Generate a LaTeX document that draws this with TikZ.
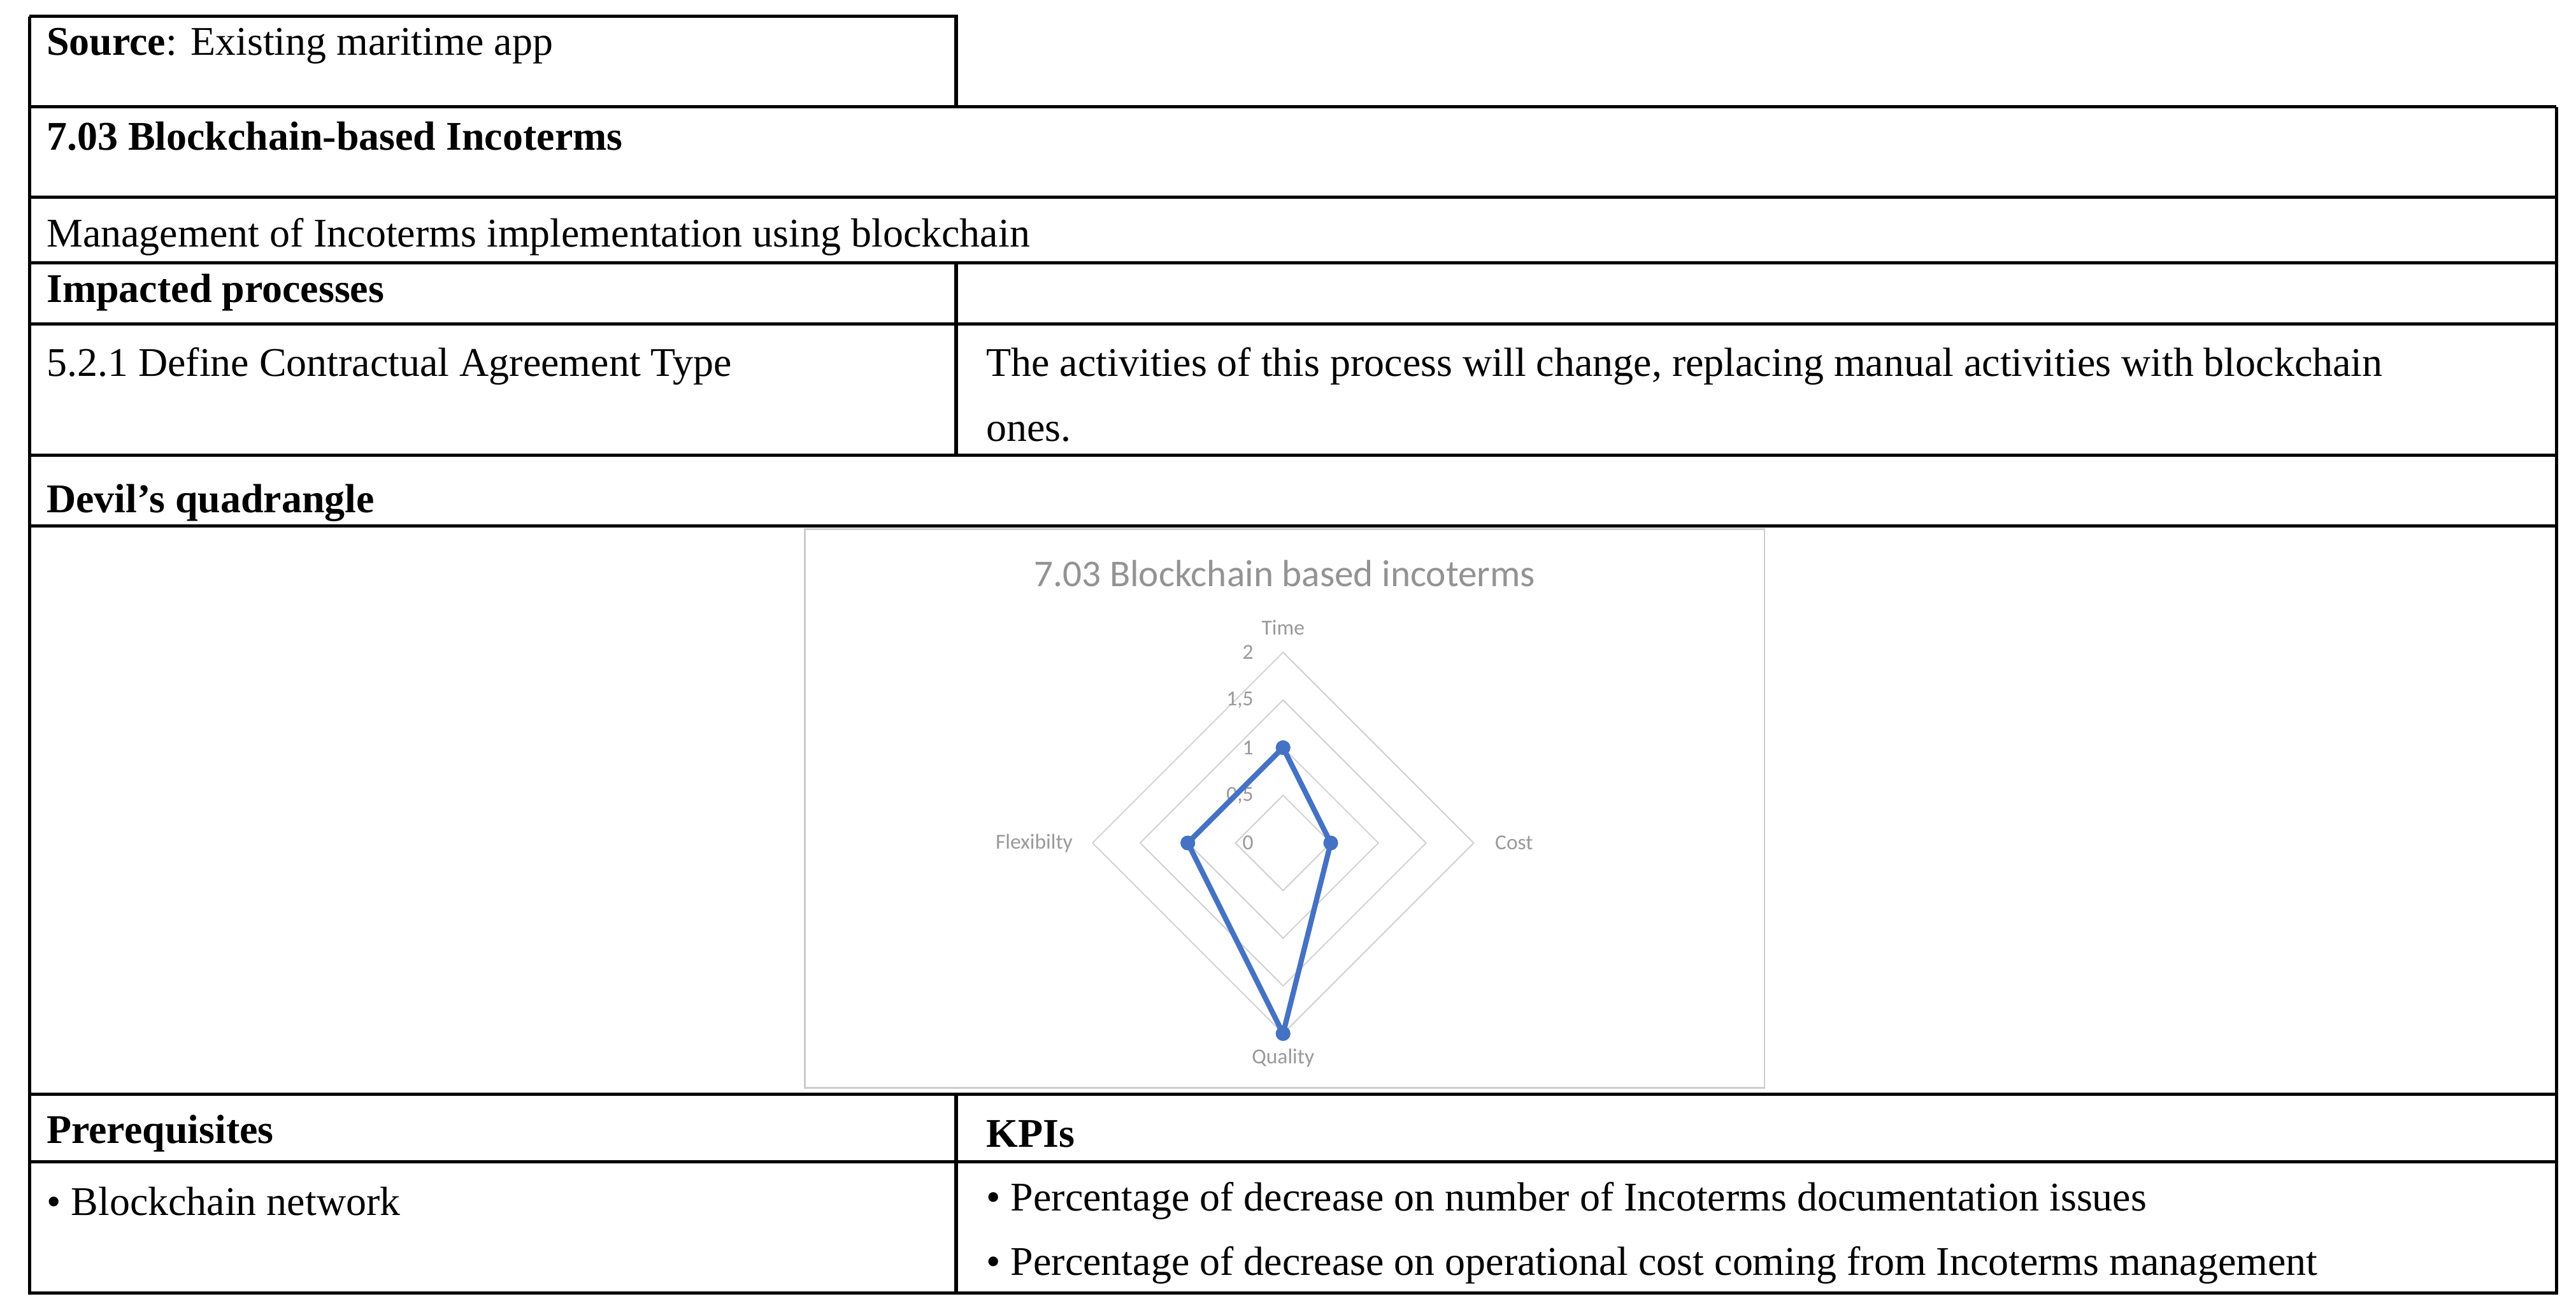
\documentclass[tikz,border=0pt]{standalone}
\usepackage{fontspec}
\setmainfont{Liberation Serif}
\newfontfamily\chartfont{Carlito}
\definecolor{serie}{HTML}{4472C4}
\begin{document}
\begin{tikzpicture}[x=0.5pt,y=-0.5pt,
  rule/.style={line width=1pt},
  cell/.style={anchor=west,inner sep=0pt,font=\fontsize{12.4}{14}\selectfont},
  ring/.style={draw=gray!35,line width=0.4pt},
  lab/.style={font=\chartfont\fontsize{6.5}{7}\selectfont,text=gray!80},
  dot/.style={circle,fill=serie,inner sep=0pt,minimum size=4.5pt}]
\useasboundingbox (0,0) rectangle (1568,800);
% table rules
\draw[rule] (18,10) -- (582,10) -- (582,65);
\draw[rule] (18,10) -- (18,787) -- (1556,787) -- (1556,65);
\foreach \y in {65,120,160,197,277,320,666,707} \draw[rule] (18,\y) -- (1556,\y);
\draw[rule] (582,160) -- (582,277);
\draw[rule] (582,666) -- (582,787);
% texts
\node[cell] (t1) at (28,28) {\textbf{Source}: Existing maritime app};
\node[cell] (t2) at (28,83) {\textbf{7.03 Blockchain-based Incoterms}};
\node[cell] (t3) at (28,144) {Management of Incoterms implementation using blockchain};
\node[cell] (t4) at (28,178) {\textbf{Impacted processes}};
\node[cell] (t5) at (28,223) {5.2.1 Define Contractual Agreement Type};
\node[cell] (t6) at (600,223) {The activities of this process will change, replacing manual activities with blockchain};
\node[cell] (t7) at (600,263) {ones.};
\node[cell] (t8) at (28,306) {\textbf{Devil’s quadrangle}};
\node[cell] (t9) at (28,690) {\textbf{Prerequisites}};
\node[cell] (t10) at (600,690) {\textbf{KPIs}};
\node[cell] (t11) at (28,731) {\textbullet{} Blockchain network};
\node[cell] (t12) at (600,731) {\textbullet{} Percentage of decrease on number of Incoterms documentation issues};
\node[cell] (t13) at (600,770) {\textbullet{} Percentage of decrease on operational cost coming from Incoterms management};
% chart
\draw[draw=gray!40,line width=0.5pt] (490,322) rectangle (1074,662);
\node[font=\chartfont\fontsize{11.5}{13}\selectfont,text=gray!85] (ct) at (782,349) {7.03 Blockchain based incoterms};
\foreach \r in {29,58,87,116} \draw[ring] (781,513-\r) -- (781+\r,513) -- (781,513+\r) -- (781-\r,513) -- cycle;
\foreach \v/\r in {0/0,{0,5}/29,1/58,{1,5}/87,2/116} \node[lab,anchor=east] at (770,513-\r) {\v};
\node[lab] (lt) at (781,382) {Time};
\node[lab,anchor=west] (lc) at (903,513) {Cost};
\node[lab] (lq) at (781,644) {Quality};
\node[lab,anchor=east] (lf) at (660,513) {Flexibilty};
\node[dot] (pt) at (781,455) {};
\node[dot] (pc) at (810,513) {};
\node[dot] (pq) at (781,629) {};
\node[dot] (pf) at (723,513) {};
\draw[serie,line width=1.6pt,line join=round] (pt.center) -- (pc.center) -- (pq.center) -- (pf.center) -- cycle;
\end{tikzpicture}
\end{document}
